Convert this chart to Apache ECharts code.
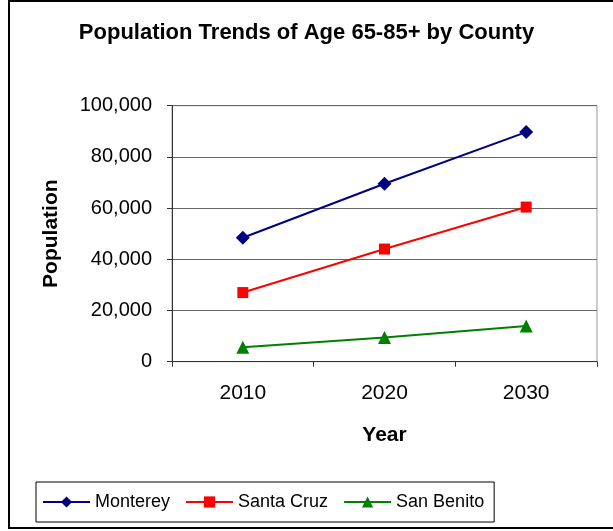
<!DOCTYPE html>
<html>
<head>
<meta charset="utf-8">
<script src="https://cdn.jsdelivr.net/npm/echarts@6/dist/echarts.min.js"></script>
<style>
html, body { margin: 0; padding: 0; background: #fff; }
#myChart { width: 613px; height: 531px; }
</style>
</head>
<body>
<div id="myChart"></div>
<script>
// data
var years = ['2010', '2020', '2030'];
var monterey = [48400, 69500, 89700];
var santaCruz = [27000, 44000, 60400];
var sanBenito = [5600, 9500, 13900];
var yTicks = [0, 20000, 40000, 60000, 80000, 100000];

var font = 'Liberation Sans, Arial, sans-serif';

function fmt(v) {
    return v.toString().replace(/\B(?=(\d{3})+(?!\d))/g, ',');
}

var myChart = echarts.init(document.getElementById('myChart'));
myChart.setOption({
    animation: false,
    backgroundColor: '#fff',
    textStyle: { fontFamily: font },
    title: {
        text: 'Population Trends of Age 65-85+ by County',
        left: 'center',
        top: 17,
        textStyle: { fontFamily: font, fontSize: 22, fontWeight: 'bold', color: '#000' }
    },
    graphic: [{
        type: 'rect',
        shape: { x: 9, y: 1, width: 640, height: 527 },
        style: { fill: 'none', stroke: '#000', lineWidth: 2 },
        silent: true
    }],
    legend: {
        left: 36,
        top: 482,
        padding: [11, 10, 11, 6],
        itemGap: 15,
        itemWidth: 47,
        itemHeight: 14,
        borderColor: '#000',
        borderWidth: 1,
        textStyle: { fontFamily: font, fontSize: 18, color: '#000' },
        data: ['Monterey', 'Santa Cruz', 'San Benito']
    },
    grid: {
        left: 172,
        right: 16,
        top: 105.7,
        bottom: 169.3,
        show: true,
        borderColor: '#999',
        borderWidth: 1
    },
    xAxis: {
        type: 'category',
        data: years,
        name: 'Year',
        nameLocation: 'middle',
        nameGap: 63,
        nameTextStyle: { fontFamily: font, fontSize: 21, fontWeight: 'bold', color: '#000' },
        axisLine: { lineStyle: { color: '#333', width: 1 } },
        axisTick: { show: true, length: 5, lineStyle: { color: '#333' } },
        axisLabel: { fontFamily: font, fontSize: 21, color: '#000', margin: 21 },
        splitLine: { show: false }
    },
    yAxis: {
        type: 'value',
        min: yTicks[0],
        max: yTicks[yTicks.length - 1],
        interval: 20000,
        name: 'Population',
        nameLocation: 'middle',
        nameGap: 110,
        nameTextStyle: { fontFamily: font, fontSize: 21, fontWeight: 'bold', color: '#000' },
        axisLine: { show: true, lineStyle: { color: '#333', width: 1 } },
        axisTick: { show: true, length: 5, lineStyle: { color: '#333' } },
        axisLabel: {
            fontFamily: font, fontSize: 20, color: '#000', margin: 20,
            formatter: function (v) { return fmt(v); }
        },
        splitLine: { show: true, lineStyle: { color: '#666', width: 1 } }
    },
    series: [
        {
            name: 'Monterey',
            type: 'line',
            data: monterey,
            symbol: 'diamond',
            symbolSize: 14,
            itemStyle: { color: '#000080' },
            lineStyle: { color: '#000080', width: 2 }
        },
        {
            name: 'Santa Cruz',
            type: 'line',
            data: santaCruz,
            symbol: 'rect',
            symbolSize: 11,
            itemStyle: { color: '#ff0000' },
            lineStyle: { color: '#ff0000', width: 2 }
        },
        {
            name: 'San Benito',
            type: 'line',
            data: sanBenito,
            symbol: 'triangle',
            symbolSize: 13,
            itemStyle: { color: '#008000' },
            lineStyle: { color: '#008000', width: 2 }
        }
    ]
});
</script>
</body>
</html>
